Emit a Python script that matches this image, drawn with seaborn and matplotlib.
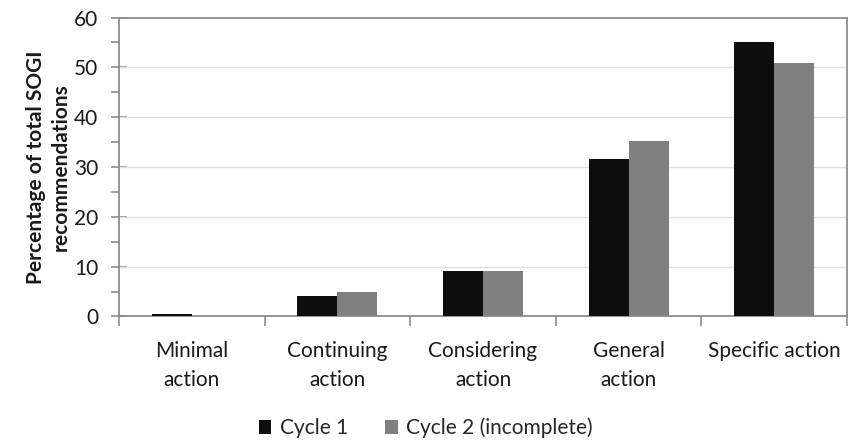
import matplotlib
matplotlib.use("Agg")
import matplotlib.pyplot as plt
import seaborn as sns
import pandas as pd
from matplotlib.ticker import MultipleLocator, FixedLocator, NullFormatter

categories = ["Minimal\naction", "Continuing\naction", "Considering\naction",
              "General\naction", "Specific action"]
cycle1 = [0.4, 4.1, 9.2, 31.7, 55.0]
cycle2 = [0.0, 4.9, 9.2, 35.2, 50.8]
series_names = ["Cycle 1", "Cycle 2 (incomplete)"]
y_ticks = [0, 10, 20, 30, 40, 50, 60]

df = pd.DataFrame({
    "category": categories * 2,
    "value": cycle1 + cycle2,
    "series": [series_names[0]] * len(categories) + [series_names[1]] * len(categories),
})

sns.set_theme(style="white")
plt.rcParams["font.family"] = ["Lato", "DejaVu Sans"]

fig = plt.figure(figsize=(8.57, 4.4), dpi=100)
ax = fig.add_axes([0.1389, 0.2807, 0.8494, 0.6795])

sns.barplot(data=df, x="category", y="value", hue="series",
            palette=["#0d0d0d", "#808080"], width=0.55, ax=ax,
            saturation=1, linewidth=0, zorder=3)

ax.set_xlim(-0.5, 4.5)
ax.set_ylim(0, 60)

# faint horizontal gridlines at the major y ticks
ax.yaxis.set_major_locator(FixedLocator(y_ticks))
ax.yaxis.set_minor_locator(MultipleLocator(5))
for y in y_ticks[1:-1]:
    ax.axhline(y, color="#e0e0e0", lw=1.0, zorder=1)

# category labels sit between boundary ticks
ax.xaxis.set_major_locator(FixedLocator([-0.5, 0.5, 1.5, 2.5, 3.5, 4.5]))
ax.xaxis.set_major_formatter(NullFormatter())
ax.set_xticks(range(len(categories)), minor=True)
ax.set_xticklabels(categories, minor=True, fontsize=15, color="#1a1a1a",
                   linespacing=1.55)
ax.tick_params(axis="x", which="major", direction="out", length=7,
               width=1.2, color="#8c8c8c", bottom=True)
ax.tick_params(axis="x", which="minor", length=0, pad=18)

ax.tick_params(axis="y", which="major", direction="inout", length=12,
               width=1.2, color="#8c8c8c", left=True, labelsize=15,
               labelcolor="#1a1a1a", pad=9)
ax.tick_params(axis="y", which="minor", direction="out", length=6,
               width=1.2, color="#8c8c8c", left=True)

for side in ["left", "bottom", "top", "right"]:
    ax.spines[side].set_visible(True)
    ax.spines[side].set_color("#8c8c8c")
    ax.spines[side].set_linewidth(1.3)

ax.set_xlabel("")
ax.set_ylabel("Percentage of total SOGI\nrecommendations", fontsize=15,
              fontweight="bold", color="#1a1a1a", labelpad=2, linespacing=1.35)

handles, labels = ax.get_legend_handles_labels()
ax.legend_.remove()
fig.legend(handles, labels, loc="center", bbox_to_anchor=(0.497, 0.027),
           ncol=2, frameon=False, fontsize=15, handlelength=0.6,
           handleheight=0.6, handletextpad=0.4, columnspacing=1.8)

fig.savefig("out.png", dpi=100, facecolor="white")
